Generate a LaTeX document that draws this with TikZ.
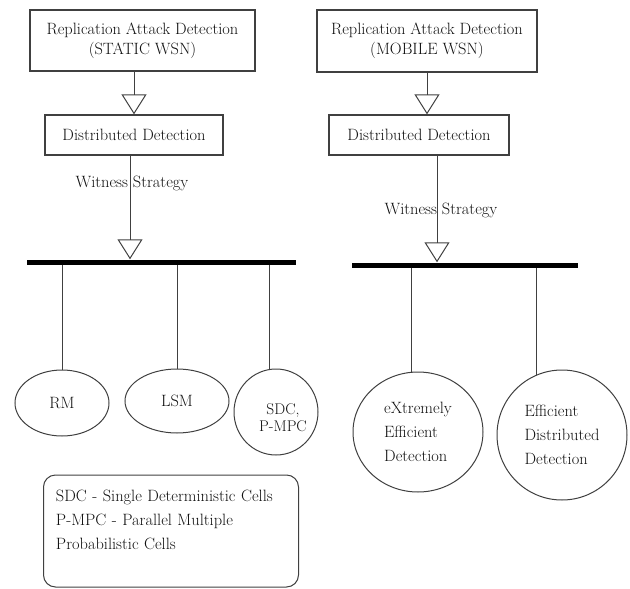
\documentclass[tikz,border=0pt]{standalone}
\usetikzlibrary{arrows.meta,shapes.geometric,positioning,calc}
\definecolor{ln}{HTML}{404040}
\definecolor{tx}{HTML}{111111}
\begin{document}
\begin{tikzpicture}[x=1pt,y=-1pt,
  every node/.style={text=tx,font=\fontsize{16.4}{20}\selectfont},
  boxnode/.style={draw=ln,line width=1.3pt,rectangle,inner sep=0pt,align=center},
  busbar/.style={fill=black,rectangle,inner sep=0pt,minimum height=5pt},
  oval/.style={draw=ln,line width=1pt,ellipse,inner sep=0pt,align=left},
  conn/.style={draw=ln,line width=1pt},
  arr/.style={conn,-{Triangle[open,width=25pt,length=20pt,line width=1pt]}},
  lbl/.style={inner sep=0pt}]
\useasboundingbox (0,0) rectangle (630,589);
% left column
\node[boxnode,minimum width=225pt,minimum height=61pt] (top1) at (142.5,40.5)
  {Replication Attack Detection\\(STATIC WSN)};
\node[boxnode,minimum width=178pt,minimum height=40pt] (dist1) at (134,135) {Distributed Detection};
\node[busbar,minimum width=269pt] (bus1) at (161.5,262) {};
\draw[arr] (top1.south -| dist1.north) -- (dist1.north);
\draw[arr] ($(dist1.south)+(-4,0)$) -- ($(dist1.south |- bus1.north)+(-4,0)$);
\node[lbl] (ws1) at (132,183) {Witness Strategy};
\node[oval,minimum width=94pt,minimum height=66pt] (rm) at (62,403) {RM};
\node[oval,minimum width=104pt,minimum height=64pt] (lsm) at (177,401) {LSM};
\node[oval,minimum width=84pt,minimum height=86pt,align=center] (sdc) at (276,412) {};
\node[inner sep=0pt,align=center,font=\fontsize{15.5}{17}\selectfont] (sdct) at (283,418) {SDC,\\P-MPC};
\draw[conn] (rm.north) -- (rm.north |- bus1.south);
\draw[conn] (lsm.north) -- (lsm.north |- bus1.south);
\draw[conn] (sdc.98) -- (sdc.98 |- bus1.south);
\node[draw=ln,line width=1pt,rounded corners=12pt,minimum width=255pt,minimum height=112pt,
  inner sep=0pt,text width=230pt,align=left,font=\fontsize{16.4}{24}\selectfont] (legend) at (171,531)
  {SDC - Single Deterministic Cells\\P-MPC - Parallel Multiple\\Probabilistic Cells\\[-2pt]\mbox{}};
% right column
\node[boxnode,minimum width=220pt,minimum height=62pt] (top2) at (427,41)
  {Replication Attack Detection\\(MOBILE WSN)};
\node[boxnode,minimum width=180pt,minimum height=40pt] (dist2) at (419,135) {Distributed Detection};
\node[busbar,minimum width=226pt] (bus2) at (465,265) {};
\draw[arr] (top2.south) -- (top2.south |- dist2.north);
\draw[arr] ($(dist2.south)+(18,0)$) -- ($(dist2.south |- bus2.north)+(18,0)$);
\node[lbl] (ws2) at (441,210) {Witness Strategy};
\node[oval,minimum width=130pt,minimum height=120pt,font=\fontsize{16.4}{24}\selectfont] (ex) at (418,432)
  {eXtremely\\Efficient\\Detection};
\node[oval,minimum width=130pt,minimum height=130pt,font=\fontsize{16.4}{24}\selectfont] (ed) at (562,435)
  {Efficient\\Distributed\\Detection};
\draw[conn] (ex.96) -- (ex.96 |- bus2.south);
\draw[conn] (ed.113) -- (ed.113 |- bus2.south);
\end{tikzpicture}
\end{document}
